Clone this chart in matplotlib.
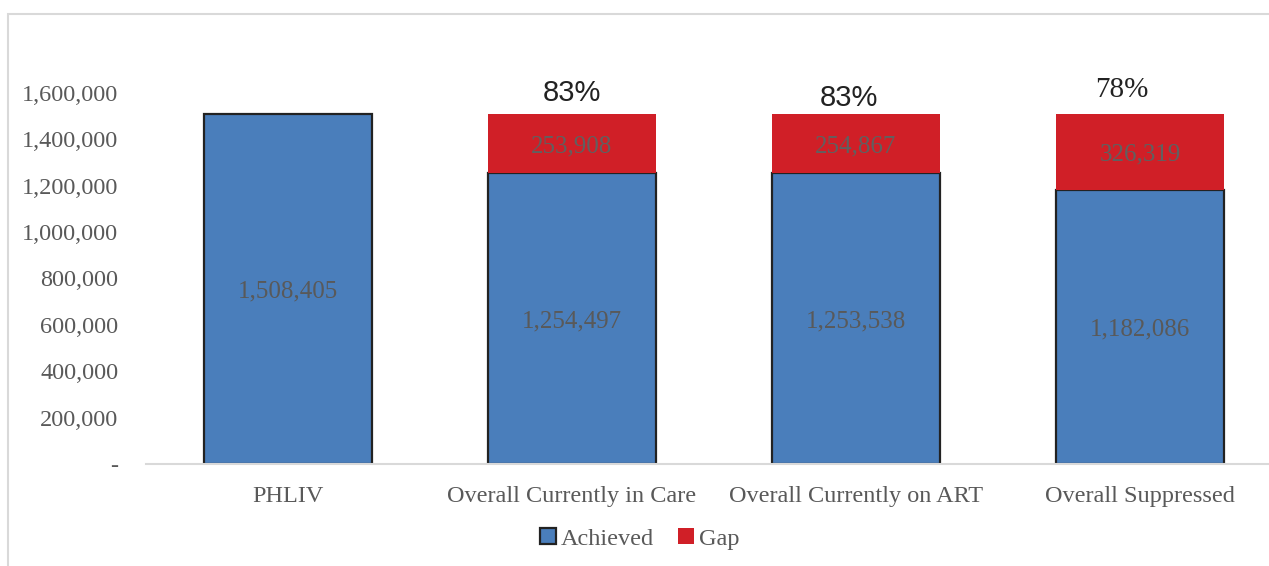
import matplotlib.pyplot as plt
from matplotlib.patches import Rectangle
from matplotlib.ticker import FuncFormatter

categories = ["PHLIV", "Overall Currently in Care", "Overall Currently on ART", "Overall Suppressed"]
achieved = [1508405, 1254497, 1253538, 1182086]
gap = [0, 253908, 254867, 326319]
pct_labels = ["", "83%", "83%", "78%"]

blue = "#4a7ebb"
red = "#d01f27"
grey_txt = "#595959"
serif = ["Liberation Serif", "DejaVu Serif"]
sans = ["Liberation Sans", "DejaVu Sans"]

plt.rcParams['font.family'] = serif

fig = plt.figure(figsize=(12.69, 5.66), dpi=100)
ax = fig.add_axes([146 / 1269, 102 / 566, 1136 / 1269, 417.4 / 566])

x = list(range(len(categories)))
width = 0.59
ax.bar(x, achieved, width, color=blue, edgecolor="#222222", linewidth=1.6, label="Achieved", zorder=2)
ax.bar(x, gap, width, bottom=achieved, color=red, linewidth=0, label="Gap", zorder=2)

# value labels inside each segment
for i in x:
    ax.text(i, achieved[i] / 2, f"{achieved[i]:,}", ha="center", va="center_baseline",
            color=grey_txt, fontsize=18)
    if gap[i] > 0:
        ax.text(i, achieved[i] + gap[i] / 2, f"{gap[i]:,}", ha="center",
                va="center_baseline", color="#606060", fontsize=18)

# share of PHLIV reached, above each stacked bar
pct_dx = [0, 0, -0.025, -0.065]
pct_dy = [0, 92000, 70000, 105000]
pct_fonts = [serif, sans, sans, serif]
for i in x:
    if pct_labels[i]:
        ax.text(i + pct_dx[i], achieved[i] + gap[i] + pct_dy[i], pct_labels[i],
                ha="center", va="center", color="#222222", fontsize=21,
                family=pct_fonts[i])

ax.set_xlim(-0.5, 3.5)
ax.set_ylim(0, 1800000)
ax.set_yticks(range(0, 1600001, 200000))
ax.yaxis.set_major_formatter(FuncFormatter(lambda v, p: "-" if v == 0 else f"{int(v):,}"))
ax.set_xticks(x)
ax.set_xticklabels(categories)
ax.tick_params(axis="y", length=0, pad=20, labelsize=17.5, labelcolor=grey_txt)
ax.tick_params(axis="x", length=0, pad=16, labelsize=17.5, labelcolor=grey_txt)

for side in ["top", "right", "left"]:
    ax.spines[side].set_visible(False)
ax.spines["bottom"].set_color("#d9d9d9")
ax.spines["bottom"].set_linewidth(1.5)

leg = ax.legend(loc="center", bbox_to_anchor=(640 / 1269, 1 - 539 / 566),
                bbox_transform=fig.transFigure, ncol=2, frameon=False,
                fontsize=17.5, handlelength=0.65, handleheight=0.65,
                handletextpad=0.2, columnspacing=1.0)
for t in leg.get_texts():
    t.set_color(grey_txt)

# chart area border
fig.add_artist(Rectangle((8 / 1269, -0.1), 1.2, (566 - 14) / 566 + 0.1,
                         transform=fig.transFigure, fill=False,
                         edgecolor="#d9d9d9", linewidth=1.5))

fig.savefig("out.png", dpi=100)
